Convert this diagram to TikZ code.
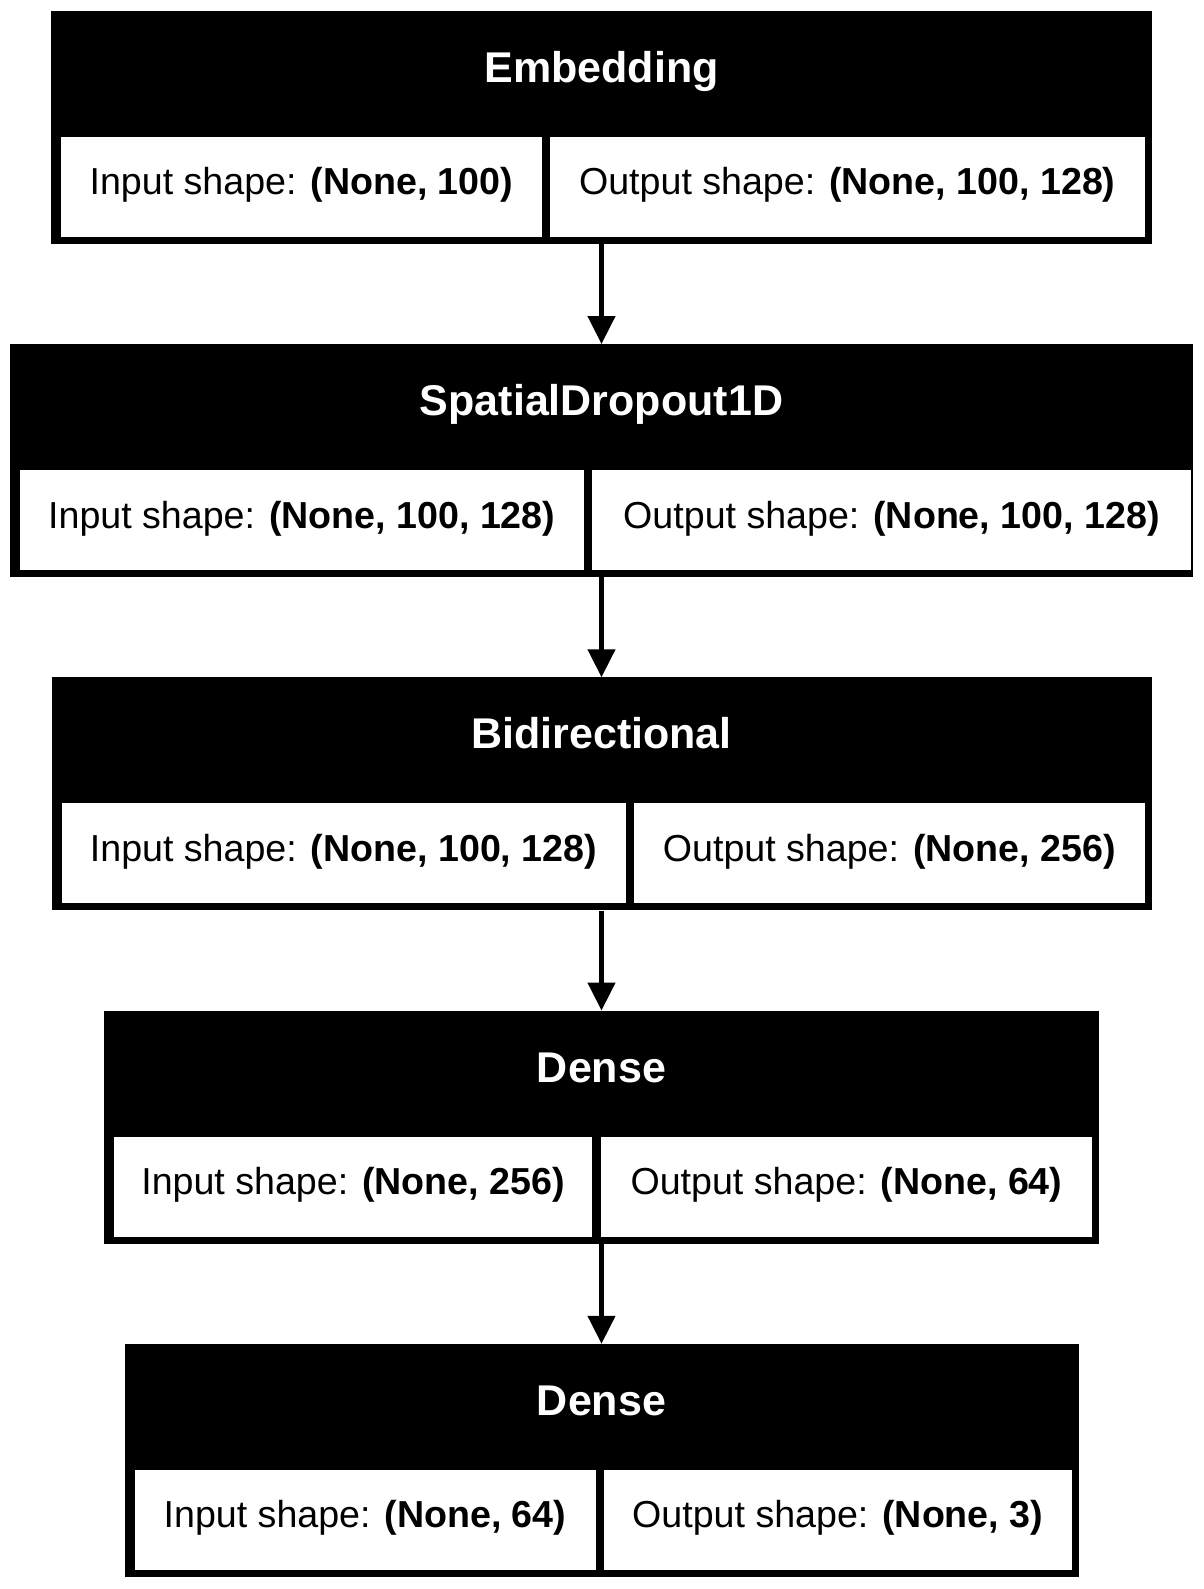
\documentclass[tikz,border=0pt]{standalone}
\usepackage{fontspec}
\setmainfont{Liberation Sans}
\usetikzlibrary{arrows.meta}

\begin{document}
\begin{tikzpicture}[layer/.style={fill=black,minimum height=233pt,inner sep=0pt},
    title/.style={text=white,anchor=base,inner sep=0pt,font=\fontsize{43pt}{52pt}\selectfont\bfseries},
    cell/.style={fill=white,minimum height=100pt,inner sep=0pt,text height=24pt,text depth=8pt,font=\fontsize{37.6pt}{45pt}\selectfont},
    flow/.style={line width=4.5pt,-{Triangle[width=27pt,length=28pt]}},
    node distance = 333.25pt]
          \useasboundingbox (0,0) rectangle (1203pt,1589pt);
          \node[layer](embed)    at (601.5pt,1461.5pt)    [minimum width=1100.6pt] {};
          \node[layer](spatial)  [below of = embed]       [minimum width=1183.5pt] {};
          \node[layer](bidir)    [below of = spatial]     [minimum width=1100pt]   {};
          \node[layer](dense)    [below of = bidir]       [minimum width=995pt]    {};
          \node[layer](dense1)   [below of = dense]       [minimum width=954pt]    {};
          % layer names
          \node[title](embed-t)    at ([yshift=-71.5pt]embed.north)    {Embedding};
          \node[title](spatial-t)  at ([yshift=-71.5pt]spatial.north)  {SpatialDropout1D};
          \node[title](bidir-t)    at ([yshift=-71.5pt]bidir.north)    {Bidirectional};
          \node[title](dense-t)    at ([yshift=-71.5pt]dense.north)    {Dense};
          \node[title](dense1-t)   at ([yshift=-71.5pt]dense1.north)   {Dense};
          % shapes
          \node[cell,anchor=south west,minimum width=480.4pt](embed-in)    at ([shift={(10pt,7pt)}]embed.south west)    {Input shape: \textbf{(None, 100)}};
          \node[cell,anchor=south east,minimum width=595pt](embed-out)     at ([shift={(-7pt,7pt)}]embed.south east)    {Output shape: \textbf{(None, 100, 128)}};
          \node[cell,anchor=south west,minimum width=564pt](spatial-in)    at ([shift={(10pt,7pt)}]spatial.south west)  {Input shape: \textbf{(None, 100, 128)}};
          \node[cell,anchor=south east,minimum width=599pt](spatial-out)   at ([shift={(-2.3pt,7pt)}]spatial.south east) {Output shape: \textbf{(None, 100, 128)}};
          \node[cell,anchor=south west,minimum width=564pt](bidir-in)      at ([shift={(10pt,7pt)}]bidir.south west)    {Input shape: \textbf{(None, 100, 128)}};
          \node[cell,anchor=south east,minimum width=511pt](bidir-out)     at ([shift={(-6.7pt,7pt)}]bidir.south east)  {Output shape: \textbf{(None, 256)}};
          \node[cell,anchor=south west,minimum width=478.2pt](dense-in)    at ([shift={(10pt,7pt)}]dense.south west)    {Input shape: \textbf{(None, 256)}};
          \node[cell,anchor=south east,minimum width=491pt](dense-out)     at ([shift={(-7pt,7pt)}]dense.south east)    {Output shape: \textbf{(None, 64)}};
          \node[cell,anchor=south west,minimum width=461pt](dense1-in)     at ([shift={(10pt,7pt)}]dense1.south west)   {Input shape: \textbf{(None, 64)}};
          \node[cell,anchor=south east,minimum width=467.6pt](dense1-out)  at ([shift={(-7pt,7pt)}]dense1.south east)   {Output shape: \textbf{(None, 3)}};
          \path[flow]
            (embed) edge (spatial)
            (spatial) edge (bidir)
            (bidir) edge (dense)
            (dense) edge (dense1)
            ;
\end{tikzpicture}
\end{document}
